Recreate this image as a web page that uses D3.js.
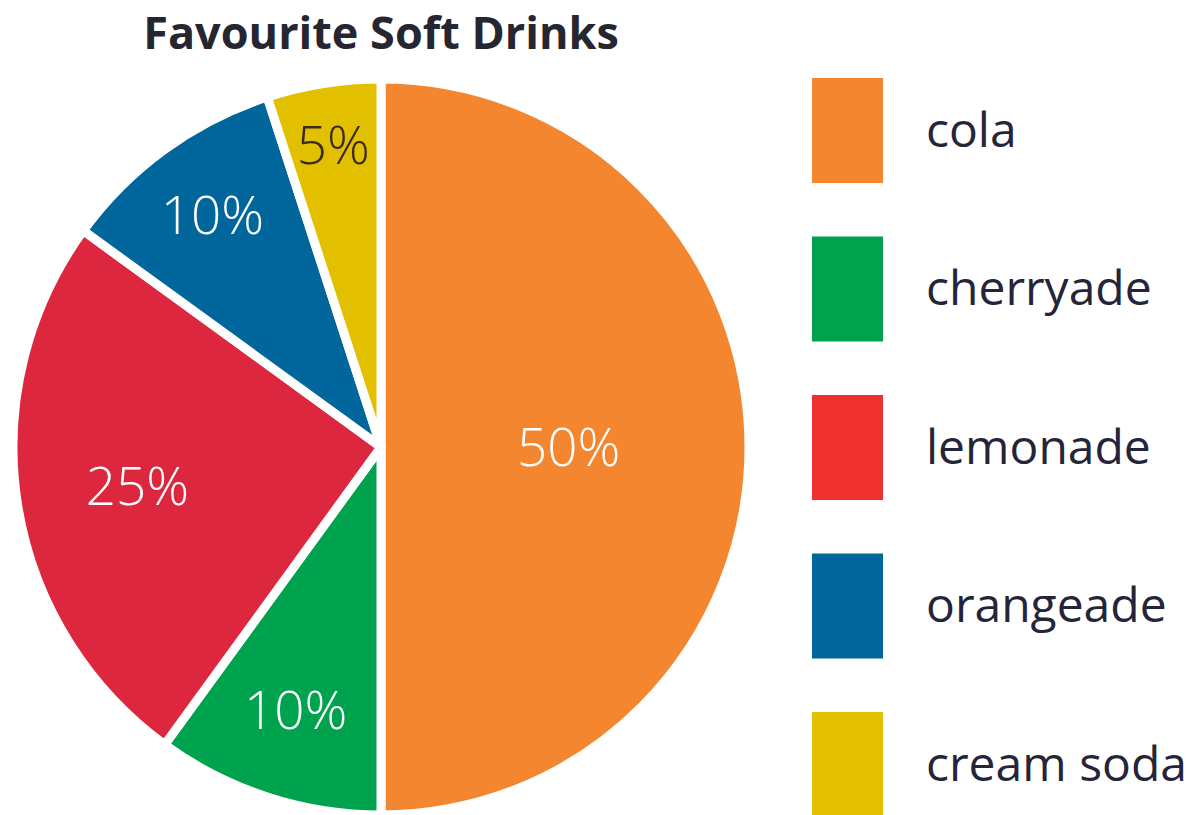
<!DOCTYPE html>
<html>
<head>
<meta charset="utf-8">
<script src="https://cdn.jsdelivr.net/npm/d3@7"></script>
<style>
  body { margin: 0; background: #fff; }
  text { font-family: "Open Sans", "Noto Sans", sans-serif; }
</style>
</head>
<body>
<svg width="1197" height="815"></svg>
<script>
// data
const drinks = ["cola", "cherryade", "lemonade", "orangeade", "cream soda"];
const percents = [50, 10, 25, 10, 5];
const sliceColours = ["#F3862E", "#00A34D", "#DC273E", "#00669B", "#E2C000"];
const legendColours = ["#F3862E", "#00A34D", "#EE312C", "#00669B", "#E2C000"];
const labelColours = ["#fff", "#fff", "#fff", "#fff", "#3a2a1c"];
// how far out each label sits, as a share of the radius
const labelRadius = [0.51, 0.75, 0.67, 0.78, 0.83];

const svg = d3.select("svg");
const cx = 381, cy = 447, radius = 368;

svg.append("text")
    .attr("x", cx)
    .attr("y", 49)
    .attr("text-anchor", "middle")
    .attr("font-size", 45)
    .attr("font-weight", 700)
    .attr("fill", "#262630")
    .text("Favourite Soft Drinks");

const data = drinks.map(function(d, i) { return {name: d, value: percents[i], i: i}; });

const pie = d3.pie()
    .sort(null)
    .value(function(d) { return d.value; });

const arc = d3.arc()
    .innerRadius(0)
    .outerRadius(radius);

const g = svg.append("g").attr("transform", "translate(" + cx + "," + cy + ")");

const slices = g.selectAll("g.slice")
    .data(pie(data))
    .enter().append("g")
    .attr("class", "slice");

slices.append("path")
    .attr("d", arc)
    .attr("fill", function(d) { return sliceColours[d.data.i]; })
    .attr("stroke", "#fff")
    .attr("stroke-width", 9)
    .attr("stroke-linejoin", "round");

slices.append("text")
    .attr("transform", function(d) {
      const r = radius * labelRadius[d.data.i];
      const a = (d.startAngle + d.endAngle) / 2;
      return "translate(" + (Math.sin(a) * r) + "," + (-Math.cos(a) * r) + ")";
    })
    .attr("text-anchor", "middle")
    .attr("dy", "0.36em")
    .attr("font-size", 53)
    .attr("font-weight", 300)
    .attr("fill", function(d) { return labelColours[d.data.i]; })
    .text(function(d) { return d.data.value + "%"; });

// legend
const legendY = d3.scaleBand()
    .domain(drinks)
    .range([78, 817])
    .paddingInner(0.3375)
    .paddingOuter(0);

const legend = svg.selectAll("g.legend")
    .data(drinks)
    .enter().append("g")
    .attr("class", "legend")
    .attr("transform", function(d) { return "translate(812," + legendY(d) + ")"; });

legend.append("rect")
    .attr("width", 71)
    .attr("height", legendY.bandwidth())
    .attr("fill", function(d, i) { return legendColours[i]; });

legend.append("text")
    .attr("x", 114)
    .attr("y", legendY.bandwidth() / 2)
    .attr("dy", "0.34em")
    .attr("font-size", 48)
    .attr("fill", "#25253a")
    .text(function(d) { return d; });
</script>
</body>
</html>
